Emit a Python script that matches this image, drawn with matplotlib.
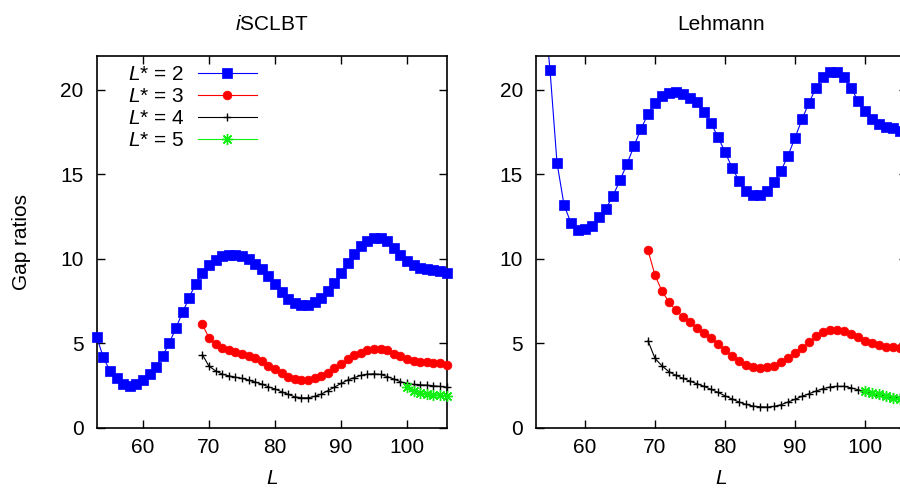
import numpy as np
import matplotlib
matplotlib.use('Agg')
import matplotlib.pyplot as plt

plt.rcParams['font.family'] = ['Liberation Sans', 'DejaVu Sans']
plt.rcParams['mathtext.fontset'] = 'custom'
plt.rcParams['mathtext.rm'] = 'Liberation Sans'
plt.rcParams['mathtext.it'] = 'Liberation Sans:italic'

# iSCLBT panel
L_left_2 = list(range(53, 107))
left_2 = [5.38, 4.16, 3.37, 2.92, 2.58, 2.48, 2.58, 2.80, 3.15, 3.62,
          4.26, 5.02, 5.91, 6.82, 7.70, 8.53, 9.16, 9.61, 9.95, 10.15,
          10.22, 10.22, 10.15, 9.97, 9.71, 9.42, 8.98, 8.53, 8.06, 7.64,
          7.39, 7.25, 7.25, 7.43, 7.70, 8.10, 8.59, 9.18, 9.75, 10.30,
          10.76, 11.05, 11.21, 11.21, 11.03, 10.66, 10.22, 9.87, 9.61, 9.48,
          9.40, 9.36, 9.28, 9.16]
L_left_3 = list(range(69, 107))
left_3 = [6.11, 5.32, 4.94, 4.73, 4.59, 4.47, 4.37, 4.24, 4.10, 3.92,
          3.68, 3.45, 3.21, 3.01, 2.88, 2.82, 2.82, 2.92, 3.05, 3.25,
          3.51, 3.76, 4.04, 4.28, 4.45, 4.59, 4.67, 4.67, 4.59, 4.39,
          4.22, 4.06, 3.96, 3.90, 3.86, 3.84, 3.80, 3.72]
L_left_4 = list(range(69, 107))
left_4 = [4.33, 3.64, 3.37, 3.17, 3.07, 2.99, 2.92, 2.82, 2.70, 2.58,
          2.42, 2.29, 2.13, 1.97, 1.83, 1.77, 1.77, 1.85, 1.99, 2.19,
          2.40, 2.62, 2.82, 2.97, 3.09, 3.17, 3.19, 3.15, 3.03, 2.88,
          2.72, 2.62, 2.56, 2.54, 2.52, 2.48, 2.44, 2.40]
L_left_5 = list(range(100, 107))
left_5 = [2.38, 2.17, 2.07, 1.99, 1.95, 1.91, 1.85]

# Lehmann panel
L_right_2 = list(range(54, 107))
right_2 = [25.5, 21.18, 15.68, 13.20, 12.10, 11.68, 11.74, 11.96, 12.45, 12.97,
           13.73, 14.64, 15.61, 16.67, 17.69, 18.56, 19.23, 19.63, 19.80, 19.86,
           19.76, 19.53, 19.25, 18.70, 18.03, 17.20, 16.33, 15.39, 14.62, 14.03,
           13.75, 13.75, 13.99, 14.52, 15.21, 16.10, 17.16, 18.25, 19.23, 20.12,
           20.75, 21.06, 21.06, 20.77, 20.12, 19.35, 18.72, 18.27, 17.95, 17.81,
           17.75, 17.58, 17.50]
L_right_3 = list(range(69, 107))
right_3 = [10.50, 9.02, 8.08, 7.43, 6.94, 6.56, 6.23, 5.91, 5.62, 5.32,
           4.97, 4.59, 4.24, 3.94, 3.70, 3.57, 3.53, 3.59, 3.68, 3.86,
           4.10, 4.43, 4.73, 5.06, 5.40, 5.67, 5.77, 5.81, 5.75, 5.56,
           5.34, 5.14, 4.99, 4.87, 4.79, 4.79, 4.73, 4.70]
L_right_4 = list(range(69, 107))
right_4 = [5.14, 4.10, 3.66, 3.31, 3.10, 2.92, 2.76, 2.60, 2.45, 2.27,
           2.09, 1.89, 1.70, 1.52, 1.38, 1.28, 1.24, 1.22, 1.26, 1.36,
           1.52, 1.68, 1.86, 2.01, 2.17, 2.31, 2.41, 2.45, 2.45, 2.36,
           2.25, 2.11, 2.01, 1.93, 1.89, 1.83, 1.79, 1.75]
L_right_5 = list(range(100, 107))
right_5 = [2.15, 2.05, 1.97, 1.87, 1.77, 1.70, 1.65]

labels = ['$L$* = 2', '$L$* = 3', '$L$* = 4', '$L$* = 5']
colors = ['#0000ff', '#ff0000', '#000000', '#11ee11']
markers = ['s', 'o', '+', (8, 2, 0)]
msizes = [7.0, 6.3, 5.5, 8.0]
mews = [0.5, 0.5, 1.0, 1.0]

YMAX = 22
FS = 15

fig = plt.figure(figsize=(9, 4.88), dpi=100)
ax1 = fig.add_axes([96.7 / 900, 60.3 / 488, 350 / 900, 371.7 / 488])
ax2 = fig.add_axes([536 / 900, 60.3 / 488, 371 / 900, 371.7 / 488])


def draw_series(ax, x, y, i):
    x = np.asarray(x)
    y = np.asarray(y)
    ax.plot(x, y, color=colors[i], lw=0.8, zorder=2)
    inside = y <= YMAX
    ax.plot(x[inside], y[inside], ls='none', marker=markers[i], ms=msizes[i],
            color=colors[i], mew=mews[i], clip_on=False, zorder=3)


panels = [
    (ax1, [(L_left_2, left_2), (L_left_3, left_3), (L_left_4, left_4), (L_left_5, left_5)]),
    (ax2, [(L_right_2, right_2), (L_right_3, right_3), (L_right_4, right_4), (L_right_5, right_5)]),
]

for ax, series in panels:
    for i, (x, y) in enumerate(series):
        draw_series(ax, x, y, i)
    ax.set_xlim(53, 106)
    ax.set_ylim(0, YMAX)
    ax.set_xticks([60, 70, 80, 90, 100])
    ax.set_yticks([0, 5, 10, 15, 20])
    ax.tick_params(direction='in', length=6, width=1.0, top=True, right=True,
                   labelsize=FS)
    ax.tick_params(axis='y', pad=9.5)
    ax.tick_params(axis='x', pad=7.5)
    for sp in ax.spines.values():
        sp.set_linewidth(1.2)

# legend (text before sample, gnuplot style)
handles = [plt.Line2D([], [], color=colors[i], lw=0.8, marker=markers[i], ms=msizes[i],
                      mew=mews[i]) for i in range(4)]
ax1.legend(handles, labels, loc='upper left', bbox_to_anchor=(0.088, 0.975),
           frameon=False, markerfirst=False, fontsize=FS, handlelength=2.85,
           handletextpad=0.65, labelspacing=0.14, borderpad=0, borderaxespad=0,
           numpoints=1)

fig.text(271.7 / 900, 1 - 24 / 488, '$i$SCLBT', ha='center', va='center', fontsize=FS)
fig.text(721.5 / 900, 1 - 24 / 488, 'Lehmann', ha='center', va='center', fontsize=FS)
fig.text(271.7 / 900, 1 - 479 / 488, '$L$', ha='center', va='center', fontsize=FS)
fig.text(721.5 / 900, 1 - 479 / 488, '$L$', ha='center', va='center', fontsize=FS)
fig.text(22 / 900, 1 - 242 / 488, 'Gap ratios', ha='center', va='center',
         rotation=90, fontsize=FS)

fig.savefig('out.png', dpi=100)
